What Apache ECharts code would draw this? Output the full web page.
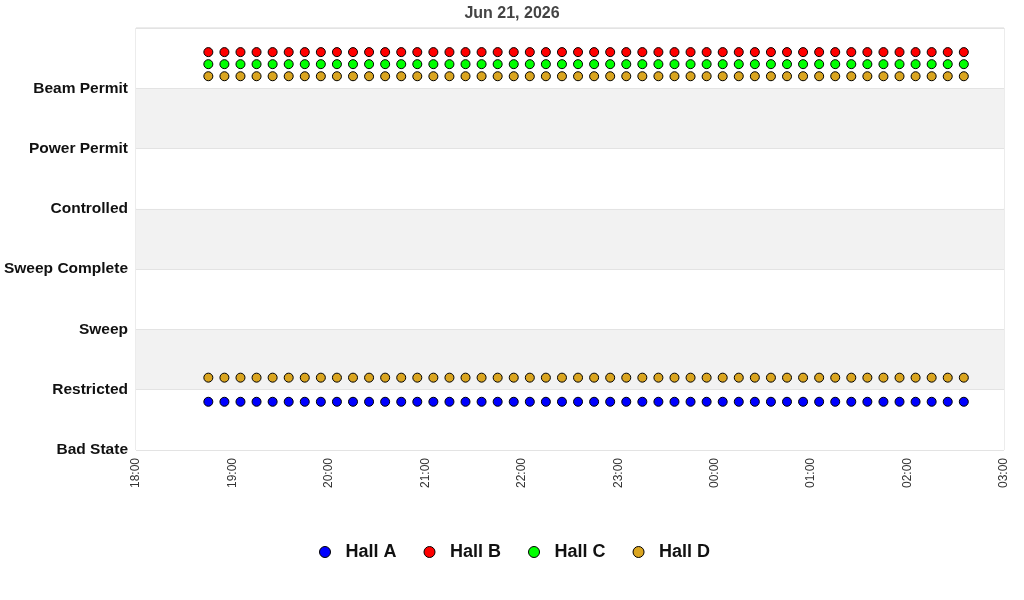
<!DOCTYPE html>
<html lang="en">
<head>
    <meta charset="UTF-8">
    <title>Hall States</title>
    <script src="https://cdn.jsdelivr.net/npm/echarts@6/dist/echarts.min.js"></script>
    <style>
        html, body { margin: 0; padding: 0; background: #fff; }
        #chart { width: 1024px; height: 600px; }
    </style>
</head>
<body>
<div id="chart"></div>
<script>
    // state names, bottom to top (value 0..6)
    const stateNames = ['Bad State', 'Restricted', 'Sweep', 'Sweep Complete', 'Controlled', 'Power Permit', 'Beam Permit'];

    // sample times, Jun 21 evening into Jun 22 morning (UTC)
    const sampleTimes = [
        '18:45', '18:55',
        '19:05', '19:15', '19:25', '19:35', '19:45', '19:55',
        '20:05', '20:15', '20:25', '20:35', '20:45', '20:55',
        '21:05', '21:15', '21:25', '21:35', '21:45', '21:55',
        '22:05', '22:15', '22:25', '22:35', '22:45', '22:55',
        '23:05', '23:15', '23:25', '23:35', '23:45', '23:55',
        '00:05', '00:15', '00:25', '00:35', '00:45', '00:55',
        '01:05', '01:15', '01:25', '01:35', '01:45', '01:55',
        '02:05', '02:15', '02:25', '02:35'
    ];

    // plotted state values (state index plus per-hall offset)
    const hallA = [0.8, 0.8, 0.8, 0.8, 0.8, 0.8, 0.8, 0.8, 0.8, 0.8, 0.8, 0.8, 0.8, 0.8, 0.8, 0.8,
        0.8, 0.8, 0.8, 0.8, 0.8, 0.8, 0.8, 0.8, 0.8, 0.8, 0.8, 0.8, 0.8, 0.8, 0.8, 0.8,
        0.8, 0.8, 0.8, 0.8, 0.8, 0.8, 0.8, 0.8, 0.8, 0.8, 0.8, 0.8, 0.8, 0.8, 0.8, 0.8];
    const hallB = [6.6, 6.6, 6.6, 6.6, 6.6, 6.6, 6.6, 6.6, 6.6, 6.6, 6.6, 6.6, 6.6, 6.6, 6.6, 6.6,
        6.6, 6.6, 6.6, 6.6, 6.6, 6.6, 6.6, 6.6, 6.6, 6.6, 6.6, 6.6, 6.6, 6.6, 6.6, 6.6,
        6.6, 6.6, 6.6, 6.6, 6.6, 6.6, 6.6, 6.6, 6.6, 6.6, 6.6, 6.6, 6.6, 6.6, 6.6, 6.6];
    const hallC = [6.4, 6.4, 6.4, 6.4, 6.4, 6.4, 6.4, 6.4, 6.4, 6.4, 6.4, 6.4, 6.4, 6.4, 6.4, 6.4,
        6.4, 6.4, 6.4, 6.4, 6.4, 6.4, 6.4, 6.4, 6.4, 6.4, 6.4, 6.4, 6.4, 6.4, 6.4, 6.4,
        6.4, 6.4, 6.4, 6.4, 6.4, 6.4, 6.4, 6.4, 6.4, 6.4, 6.4, 6.4, 6.4, 6.4, 6.4, 6.4];
    const hallDUpper = [6.2, 6.2, 6.2, 6.2, 6.2, 6.2, 6.2, 6.2, 6.2, 6.2, 6.2, 6.2, 6.2, 6.2, 6.2, 6.2,
        6.2, 6.2, 6.2, 6.2, 6.2, 6.2, 6.2, 6.2, 6.2, 6.2, 6.2, 6.2, 6.2, 6.2, 6.2, 6.2,
        6.2, 6.2, 6.2, 6.2, 6.2, 6.2, 6.2, 6.2, 6.2, 6.2, 6.2, 6.2, 6.2, 6.2, 6.2, 6.2];
    const hallDLower = [1.2, 1.2, 1.2, 1.2, 1.2, 1.2, 1.2, 1.2, 1.2, 1.2, 1.2, 1.2, 1.2, 1.2, 1.2, 1.2,
        1.2, 1.2, 1.2, 1.2, 1.2, 1.2, 1.2, 1.2, 1.2, 1.2, 1.2, 1.2, 1.2, 1.2, 1.2, 1.2,
        1.2, 1.2, 1.2, 1.2, 1.2, 1.2, 1.2, 1.2, 1.2, 1.2, 1.2, 1.2, 1.2, 1.2, 1.2, 1.2];

    const HOUR = 3600000;
    const axisStart = Date.UTC(2026, 5, 21, 18, 0);
    const axisEnd = Date.UTC(2026, 5, 22, 3, 0);

    // evening times fall on the 21st, after-midnight times on the 22nd
    function toMs(t) {
        const h = parseInt(t.slice(0, 2), 10);
        const m = parseInt(t.slice(3, 5), 10);
        const day = h < 12 ? 22 : 21;
        return Date.UTC(2026, 5, day, h, m);
    }

    function pairs(values) {
        return sampleTimes.map(function (t, i) { return [toMs(t), values[i]]; });
    }

    function pad(n) { return (n < 10 ? '0' : '') + n; }

    const markerStyle = function (color) {
        return { color: color, borderColor: '#000', borderWidth: 1, opacity: 1 };
    };

    const chart = echarts.init(document.getElementById('chart'));

    chart.setOption({
        animation: false,
        color: ['#0000ff', '#ff0000', '#00ff00', '#daa520'],
        title: {
            text: 'Jun 21, 2026',
            left: 'center',
            top: 1,
            textStyle: { fontFamily: 'Liberation Sans', fontSize: 16, fontWeight: 'bold', color: '#444' }
        },
        legend: {
            bottom: 34,
            left: 314,
            icon: 'circle',
            itemWidth: 11,
            itemHeight: 11,
            itemGap: 27,
            data: ['Hall A', 'Hall B', 'Hall C', 'Hall D'],
            textStyle: { fontFamily: 'Liberation Sans', fontSize: 18, fontWeight: 'bold', color: '#111', padding: [0, 0, 0, 10] },
            itemStyle: { borderColor: '#000', borderWidth: 1 }
        },
        grid: {
            left: 136,
            right: 20,
            top: 28,
            bottom: 150,
            show: true,
            borderColor: '#d9d9d9',
            borderWidth: 1,
            backgroundColor: 'transparent'
        },
        xAxis: {
            type: 'value',
            min: axisStart,
            max: axisEnd,
            interval: HOUR,
            axisLine: { show: false },
            axisTick: { show: false },
            splitLine: { show: false },
            axisLabel: {
                rotate: 90,
                margin: 8,
                fontFamily: 'Liberation Sans',
                fontSize: 12,
                color: '#333',
                formatter: function (v) {
                    const d = new Date(v);
                    return pad(d.getUTCHours()) + ':' + pad(d.getUTCMinutes());
                }
            }
        },
        yAxis: {
            type: 'value',
            min: 0,
            max: 7,
            interval: 1,
            axisLine: { show: false },
            axisTick: { show: false },
            splitLine: { show: true, lineStyle: { color: '#e3e3e3', width: 1 } },
            splitArea: { show: true, areaStyle: { color: ['#ffffff', '#f2f2f2'] } },
            axisLabel: {
                margin: 8,
                fontFamily: 'Liberation Sans',
                fontSize: 15.5,
                fontWeight: 'bold',
                color: '#111',
                padding: [3, 0, 0, 0],
                formatter: function (v) { return stateNames[v] || ''; }
            }
        },
        series: [
            { name: 'Hall A', type: 'scatter', symbolSize: 9, itemStyle: markerStyle('#0000ff'), data: pairs(hallA) },
            { name: 'Hall B', type: 'scatter', symbolSize: 9, itemStyle: markerStyle('#ff0000'), data: pairs(hallB) },
            { name: 'Hall C', type: 'scatter', symbolSize: 9, itemStyle: markerStyle('#00ff00'), data: pairs(hallC) },
            { name: 'Hall D', type: 'scatter', symbolSize: 9, itemStyle: markerStyle('#daa520'), data: pairs(hallDUpper) },
            { name: 'Hall D', type: 'scatter', symbolSize: 9, itemStyle: markerStyle('#daa520'), data: pairs(hallDLower) }
        ]
    });
</script>
</body>
</html>
